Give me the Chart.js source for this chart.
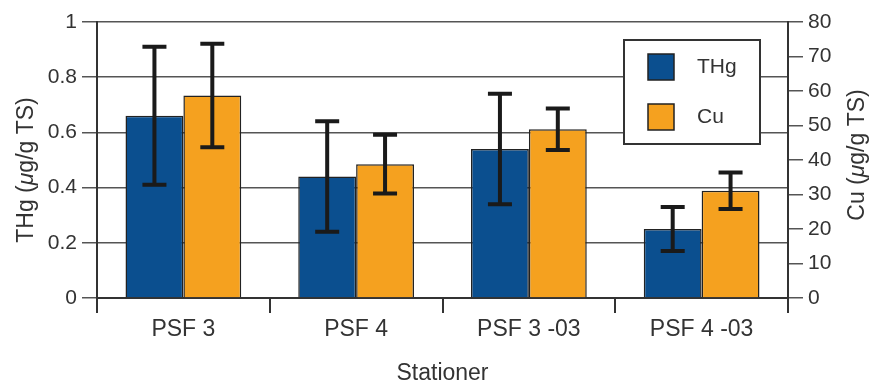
<!DOCTYPE html>
<html>
<head>
<meta charset="utf-8">
<script src="https://cdn.jsdelivr.net/npm/chart.js@4.4.1/dist/chart.umd.min.js"></script>
<style>
  html, body { margin: 0; padding: 0; background: #fff; }
  #wrap { width: 876px; height: 387px; }
</style>
</head>
<body>
<div id="wrap"><canvas id="chart" width="876" height="387"></canvas></div>
<script>
// Stations and measured means with error (+/-) values
const stations = ['PSF 3', 'PSF 4', 'PSF 3 -03', 'PSF 4 -03'];
const thgValues = [0.66, 0.44, 0.54, 0.25];
const thgErrors = [0.25, 0.20, 0.20, 0.08];
const cuValues = [58.7, 38.8, 48.9, 31.1];
const cuErrors = [15, 8.5, 6, 5.3];

const FONT = "'Liberation Sans', Arial, sans-serif";
const TEXT = '#333';
const BLUE = '#0b4f8f';
const ORANGE = '#f5a11f';

// Error bars drawn from the data through the scales
const errorBars = {
    id: 'errorBars',
    afterDatasetsDraw(chart) {
        const ctx = chart.ctx;
        ctx.save();
        ctx.strokeStyle = '#1a1a1a';
        ctx.lineWidth = 4;
        chart.data.datasets.forEach((ds, i) => {
            const meta = chart.getDatasetMeta(i);
            const scale = chart.scales[ds.yAxisID];
            meta.data.forEach((bar, j) => {
                const v = ds.data[j], e = ds.errors[j];
                const yTop = scale.getPixelForValue(v + e);
                const yBot = scale.getPixelForValue(v - e);
                const half = 12;
                ctx.beginPath();
                ctx.moveTo(bar.x, yTop);
                ctx.lineTo(bar.x, yBot);
                ctx.moveTo(bar.x - half, yTop);
                ctx.lineTo(bar.x + half, yTop);
                ctx.moveTo(bar.x - half, yBot);
                ctx.lineTo(bar.x + half, yBot);
                ctx.stroke();
            });
        });
        ctx.restore();
    }
};

// Boxed legend inside the plot
const boxLegend = {
    id: 'boxLegend',
    afterDatasetsDraw(chart) {
        const ctx = chart.ctx;
        const area = chart.chartArea;
        const bx = area.right - 164, by = area.top + 18, bw = 136, bh = 104;
        ctx.save();
        ctx.fillStyle = '#fff';
        ctx.fillRect(bx, by, bw, bh);
        ctx.strokeStyle = '#333';
        ctx.lineWidth = 2;
        ctx.strokeRect(bx, by, bw, bh);
        chart.data.datasets.forEach((ds, i) => {
            const sy = by + 14 + i * 50;
            ctx.fillStyle = ds.backgroundColor;
            ctx.fillRect(bx + 24, sy, 26, 26);
            ctx.lineWidth = 1.5;
            ctx.strokeStyle = '#222';
            ctx.strokeRect(bx + 24, sy, 26, 26);
            ctx.fillStyle = TEXT;
            ctx.font = '21px ' + FONT;
            ctx.textBaseline = 'middle';
            ctx.textAlign = 'left';
            ctx.fillText(ds.label, bx + 73, sy + 13);
        });
        ctx.restore();
    }
};

// Rotated y-axis titles with italic mu
function drawRotatedTitle(ctx, parts, x, y) {
    ctx.save();
    ctx.translate(x, y);
    ctx.rotate(-Math.PI / 2);
    ctx.fillStyle = TEXT;
    ctx.textBaseline = 'middle';
    ctx.textAlign = 'left';
    let total = 0;
    parts.forEach(p => {
        ctx.font = (p.italic ? 'italic ' : '') + '23px ' + FONT;
        p.w = ctx.measureText(p.text).width;
        total += p.w;
    });
    let cx = -total / 2;
    parts.forEach(p => {
        ctx.font = (p.italic ? 'italic ' : '') + '23px ' + FONT;
        ctx.fillText(p.text, cx, 0);
        cx += p.w;
    });
    ctx.restore();
}

const axisTitles = {
    id: 'axisTitles',
    afterDraw(chart) {
        const ctx = chart.ctx;
        const area = chart.chartArea;
        const mid = (area.top + area.bottom) / 2;
        drawRotatedTitle(ctx, [{text: 'THg ('}, {text: 'μ', italic: true}, {text: 'g/g TS)'}], 27, mid + 10);
        drawRotatedTitle(ctx, [{text: 'Cu ('}, {text: 'μ', italic: true}, {text: 'g/g TS)'}], 858, mid - 5);
    }
};

const ctx = document.getElementById('chart').getContext('2d');
new Chart(ctx, {
    type: 'bar',
    data: {
        labels: stations,
        datasets: [{
            label: 'THg',
            data: thgValues,
            errors: thgErrors,
            yAxisID: 'y',
            backgroundColor: BLUE,
            borderColor: '#222',
            borderWidth: 1.5
        }, {
            label: 'Cu',
            data: cuValues,
            errors: cuErrors,
            yAxisID: 'y1',
            backgroundColor: ORANGE,
            borderColor: '#222',
            borderWidth: 1.5
        }]
    },
    options: {
        responsive: false,
        animation: false,
        events: [],
        categoryPercentage: 0.67,
        barPercentage: 1.0,
        layout: { padding: { top: 22, left: 0, right: 0, bottom: 0 } },
        plugins: {
            legend: { display: false },
            tooltip: { enabled: false }
        },
        scales: {
            x: {
                grid: {
                    offset: true,
                    drawOnChartArea: false,
                    drawTicks: true,
                    tickLength: 15,
                    color: '#333',
                    lineWidth: 2
                },
                border: { color: '#333', width: 2 },
                ticks: { color: TEXT, font: { family: FONT, size: 23 }, padding: 3 },
                title: {
                    display: true,
                    text: 'Stationer',
                    color: TEXT,
                    font: { family: FONT, size: 23 },
                    padding: { top: 0, bottom: 0 }
                },
                afterFit(scale) { scale.height = 89; }
            },
            y: {
                position: 'left',
                min: 0,
                max: 1,
                grid: { color: '#555', lineWidth: 1.5, tickLength: 15 },
                border: { color: '#333', width: 2 },
                ticks: {
                    stepSize: 0.2,
                    color: TEXT,
                    font: { family: FONT, size: 21 },
                    padding: 5,
                    callback: v => String(+v.toFixed(1))
                },
                afterFit(scale) { scale.width = 97; }
            },
            y1: {
                position: 'right',
                min: 0,
                max: 80,
                grid: { drawOnChartArea: false, color: '#555', lineWidth: 1.5, tickLength: 15 },
                border: { color: '#333', width: 2 },
                ticks: { stepSize: 10, color: TEXT, font: { family: FONT, size: 21 }, padding: 5 },
                afterFit(scale) { scale.width = 88; }
            }
        }
    },
    plugins: [errorBars, boxLegend, axisTitles]
});
</script>
</body>
</html>
